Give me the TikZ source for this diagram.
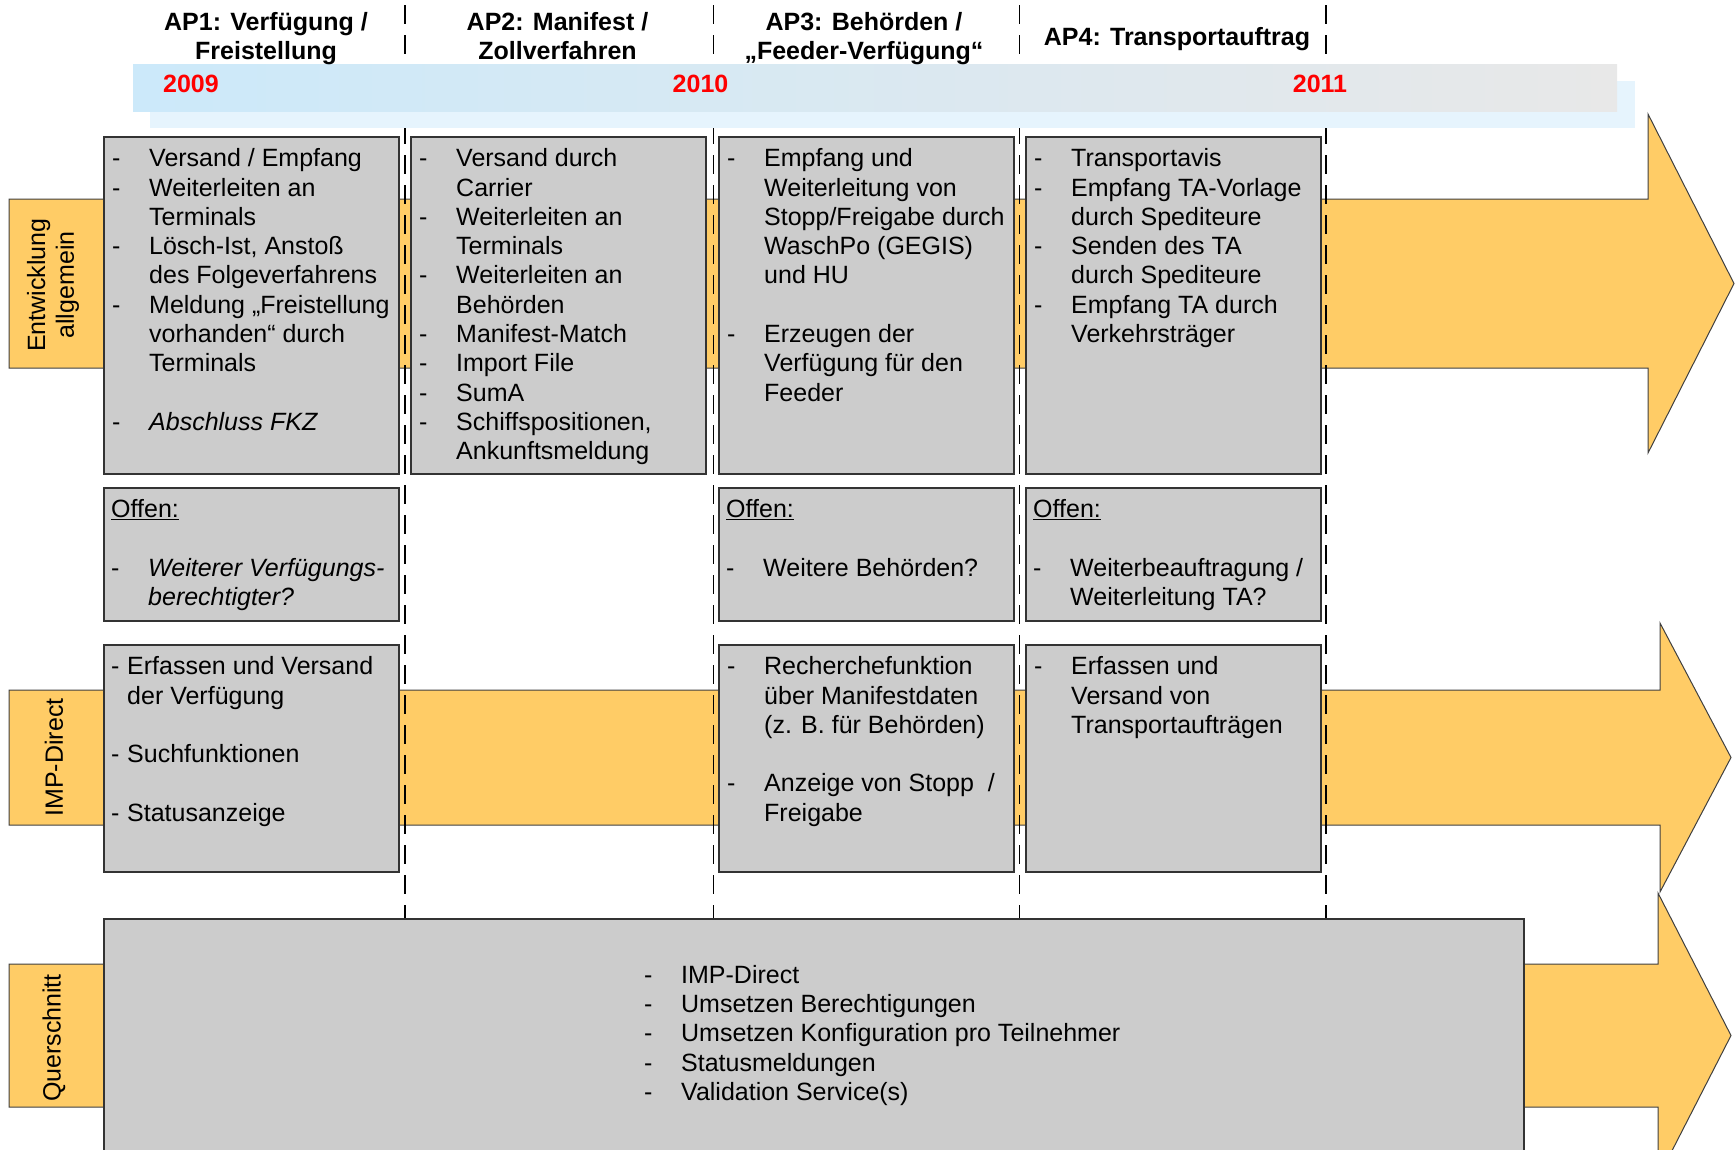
\documentclass[tikz,border=0pt]{standalone}
\usepackage{fontspec}
\setmainfont{Liberation Sans}
\usetikzlibrary{positioning}
\definecolor{bandorange}{RGB}{255,204,102}
\definecolor{boxgrey}{RGB}{204,204,204}
\definecolor{skyleft}{RGB}{204,233,250}
\definecolor{skyright}{RGB}{232,232,232}
\definecolor{skyshade}{RGB}{230,244,253}
\pgfdeclarelayer{bandlayer}
\pgfdeclarelayer{seplayer}
\pgfsetlayers{bandlayer,seplayer,main}
\tikzstyle{greybox}=[draw=black!80,fill=boxgrey,line width=1.5pt,inner sep=0pt,anchor=north west,minimum width=295pt]
\tikzstyle{txt}=[inner sep=0pt,font=\fontsize{25}{29.3}\selectfont]
\tikzstyle{hdr}=[inner sep=0pt,font=\fontsize{25}{28.6}\selectfont\bfseries]
\tikzstyle{yr}=[inner sep=0pt,anchor=base,text=red,font=\fontsize{25}{29}\selectfont\bfseries]
\tikzstyle{band}=[draw=black!75,fill=bandorange,line width=1pt]
\tikzstyle{lbl}=[inner sep=0pt,rotate=90,align=center,font=\fontsize{25}{28.7}\selectfont]
\tikzstyle{apsep}=[line width=1.8pt,dash pattern=on 19pt off 11pt]
\newcommand{\dlist}[1]{\begin{tabular}{@{}p{37pt}@{}l@{}}#1\end{tabular}}

\begin{document}
\begin{tikzpicture}[x=1pt,y=-1pt]
\useasboundingbox (0,0) rectangle (1736,1149);
\begin{pgfonlayer}{bandlayer}
\draw[band] (9,199) -- (1648,199) -- (1648,114) -- (1734,283.5) -- (1648,453) -- (1648,368) -- (9,368) -- cycle;
\draw[band] (9,690) -- (1660,690) -- (1660,623) -- (1731,757.5) -- (1660,892) -- (1660,825) -- (9,825) -- cycle;
\draw[band] (9,964) -- (1658,964) -- (1658,893) -- (1731,1035.5) -- (1658,1178) -- (1658,1107) -- (9,1107) -- cycle;
\end{pgfonlayer}
\node[lbl] (lblA) at (53,285) {Entwicklung\\allgemein};
\node[lbl] (lblI) at (54,757.5) {IMP-Direct};
\node[lbl] (lblQ) at (54,1038) {Querschnitt};

% time line
\fill[skyshade] (150,81) rectangle (1635,128);
\shade[left color=skyleft,right color=skyright] (133,64) rectangle (1617,111);
\node[yr] (y09) at (191,92.7) {2009};
\node[yr] (y10) at (700.5,92.7) {2010};
\node[yr] (y11) at (1320,92.7) {2011};

\node[hdr] (h1) at (266,39.3) {\begin{tabular}{@{}c@{}}AP1: Verfügung /\\Freistellung\end{tabular}};
\node[hdr] (h2) at (557.5,39.3) {\begin{tabular}{@{}c@{}}AP2: Manifest /\\Zollverfahren\end{tabular}};
\node[hdr] (h3) at (864,39.3) {\begin{tabular}{@{}c@{}}AP3: Behörden /\\„Feeder-Verfügung“\end{tabular}};
\node[hdr] (h4) at (1177,39.3) {\begin{tabular}{@{}c@{}}AP4: Transportauftrag\end{tabular}};

\node[greybox,minimum height=337pt] (ap1) at (103,136) {};
\node[greybox,minimum height=337pt] (ap2) at (410,136) {};
\node[greybox,minimum height=337pt] (ap3) at (718,136) {};
\node[greybox,minimum height=337pt] (ap4) at (1025,136) {};
\node[greybox,minimum height=133pt] (of1) at (103,487) {};
\node[greybox,minimum height=133pt] (of3) at (718,487) {};
\node[greybox,minimum height=133pt] (of4) at (1025,487) {};
\node[greybox,minimum height=227pt] (imp1) at (103,644) {};
\node[greybox,minimum height=227pt] (imp3) at (718,644) {};
\node[greybox,minimum height=227pt] (imp4) at (1025,644) {};
\node[greybox,minimum width=1420pt,minimum height=245pt] (qs) at (103,918) {};

\node[txt,below right=10pt and 9pt of ap1.north west] (t1) {\dlist{- & Versand / Empfang\\ - & Weiterleiten an\\ & Terminals\\ - & Lösch-Ist, Anstoß\\ & des Folgeverfahrens\\ - & Meldung „Freistellung\\ & vorhanden“ durch\\ & Terminals\\ & \\ - & \textit{Abschluss FKZ}}};
\node[txt,below right=10pt and 9pt of ap2.north west] (t2) {\dlist{- & Versand durch\\ & Carrier\\ - & Weiterleiten an\\ & Terminals\\ - & Weiterleiten an\\ & Behörden\\ - & Manifest-Match\\ - & Import File\\ - & SumA\\ - & Schiffspositionen,\\ & Ankunftsmeldung}};
\node[txt,below right=10pt and 9pt of ap3.north west] (t3) {\dlist{- & Empfang und\\ & Weiterleitung von\\ & Stopp/Freigabe durch\\ & WaschPo (GEGIS)\\ & und HU\\ & \\ - & Erzeugen der\\ & Verfügung für den\\ & Feeder}};
\node[txt,below right=10pt and 9pt of ap4.north west] (t4) {\dlist{- & Transportavis\\ - & Empfang TA-Vorlage\\ & durch Spediteure\\ - & Senden des TA\\ & durch Spediteure\\ - & Empfang TA durch\\ & Verkehrsträger}};

\node[txt,below right=10pt and 8pt of of1.north west] (o1) {\dlist{\multicolumn{2}{@{}l@{}}{\underline{Offen:}}\\ & \\ - & \textit{Weiterer Verfügungs-}\\ & \textit{berechtigter?}}};
\node[txt,below right=10pt and 8pt of of3.north west] (o3) {\dlist{\multicolumn{2}{@{}l@{}}{\underline{Offen:}}\\ & \\ - & Weitere Behörden?}};
\node[txt,below right=10pt and 8pt of of4.north west] (o4) {\dlist{\multicolumn{2}{@{}l@{}}{\underline{Offen:}}\\ & \\ - & Weiterbeauftragung /\\ & Weiterleitung TA?}};

\node[txt,below right=10pt and 8pt of imp1.north west] (i1) {\begin{tabular}{@{}p{16pt}@{}l@{}}- & Erfassen und Versand\\ & der Verfügung\\ & \\ - & Suchfunktionen\\ & \\ - & Statusanzeige\end{tabular}};
\node[txt,below right=10pt and 9pt of imp3.north west] (i3) {\dlist{- & Recherchefunktion\\ & über Manifestdaten\\ & (z. B. für Behörden)\\ & \\ - & Anzeige von Stopp\ \ /\\ & Freigabe}};
\node[txt,below right=10pt and 9pt of imp4.north west] (i4) {\dlist{- & Erfassen und\\ & Versand von\\ & Transportaufträgen}};

\node[txt,below right=44.5pt and 541pt of qs.north west] (tq) {\dlist{- & IMP-Direct\\ - & Umsetzen Berechtigungen\\ - & Umsetzen Konfiguration pro Teilnehmer\\ - & Statusmeldungen\\ - & Validation Service(s)}};

\begin{pgfonlayer}{seplayer}
\foreach \x [count=\i] in {405,713.5,1019.5,1326}
  \draw[apsep] (\x,5) coordinate (s\i) -- (s\i |- qs.north);
\end{pgfonlayer}
\end{tikzpicture}
\end{document}
